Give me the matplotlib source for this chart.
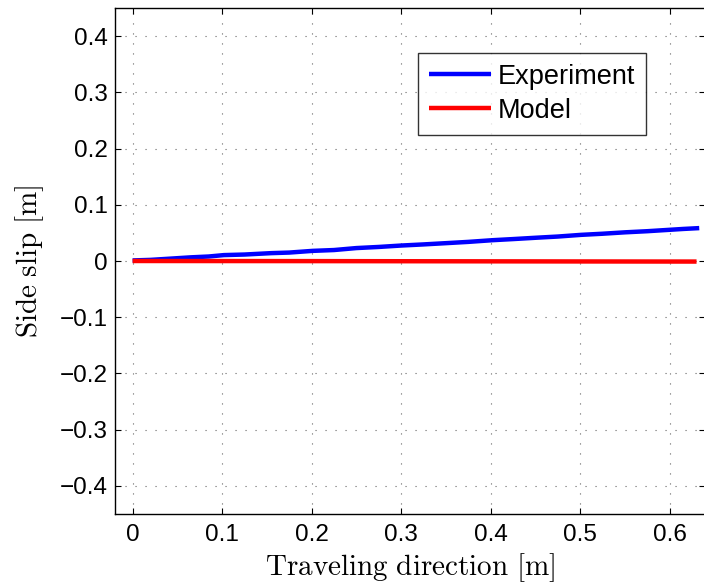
import matplotlib
matplotlib.use("Agg")
import matplotlib.pyplot as plt

# Side slip measured along the traveling direction (metres)
exp_x = [0.000, 0.020, 0.040, 0.065, 0.085, 0.102, 0.125, 0.155, 0.175, 0.201,
         0.225, 0.250, 0.275, 0.300, 0.325, 0.353, 0.375, 0.402, 0.425, 0.452,
         0.475, 0.501, 0.525, 0.550, 0.575, 0.600, 0.615, 0.633]
exp_y = [0.0010, 0.0020, 0.0040, 0.0065, 0.0080, 0.0105, 0.0115, 0.0140, 0.0150, 0.0180,
         0.0195, 0.0230, 0.0250, 0.0275, 0.0295, 0.0320, 0.0340, 0.0370, 0.0390, 0.0415,
         0.0435, 0.0465, 0.0485, 0.0510, 0.0530, 0.0555, 0.0570, 0.0585]

# Model prediction
model_x = [0.000, 0.100, 0.200, 0.300, 0.400, 0.500, 0.630]
model_y = [0.0000, -0.0001, -0.0002, -0.0004, -0.0006, -0.0008, -0.0010]

xticks = [0, 0.1, 0.2, 0.3, 0.4, 0.5, 0.6]
yticks = [-0.4, -0.3, -0.2, -0.1, 0, 0.1, 0.2, 0.3, 0.4]
xtick_labels = ["0", "0.1", "0.2", "0.3", "0.4", "0.5", "0.6"]
ytick_labels = ["\u22120.4", "\u22120.3", "\u22120.2", "\u22120.1", "0", "0.1", "0.2", "0.3", "0.4"]

plt.rcParams["mathtext.fontset"] = "cm"
plt.rcParams["font.family"] = ["Liberation Sans", "DejaVu Sans"]

fig = plt.figure(figsize=(7.04, 5.87), dpi=100)
ax = fig.add_axes([114.7 / 704, (587 - 514) / 587, (705.5 - 114.7) / 704, (514 - 8) / 587])

ax.plot(exp_x, exp_y, color="#0000ff", lw=3.2, solid_capstyle="butt", label="Experiment")
ax.plot(model_x, model_y, color="#ff0000", lw=3.2, solid_capstyle="butt", label="Model")

ax.set_xlim(-0.02, 0.64)
ax.set_ylim(-0.45, 0.45)
ax.set_xticks(xticks)
ax.set_xticklabels(xtick_labels)
ax.set_yticks(yticks)
ax.set_yticklabels(ytick_labels)

ax.grid(True, color="0.4", linestyle=(0, (1, 8)), linewidth=0.8)
ax.tick_params(direction="in", length=4.5, width=0.8, top=True, right=True,
               labelsize=17.5, colors="black")
ax.tick_params(axis="x", pad=7)
ax.tick_params(axis="y", pad=5)
for s in ax.spines.values():
    s.set_linewidth(1.0)
    s.set_color("black")

ax.set_xlabel(r"$\mathrm{Traveling\ direction\ [m]}$", fontsize=21, labelpad=4)
ax.set_ylabel(r"$\mathrm{Side\ slip\ [m]}$", fontsize=21, labelpad=10)

leg = ax.legend(loc="upper left", bbox_to_anchor=((418 - 114.7) / 590.8, (514 - 53) / 506),
                fontsize=19.5, frameon=True, fancybox=False, edgecolor="black",
                handlelength=2.3, handletextpad=0.25, borderpad=0.4, labelspacing=0.3,
                borderaxespad=0)
leg.get_frame().set_linewidth(1.0)

fig.savefig("out.png", dpi=100)
